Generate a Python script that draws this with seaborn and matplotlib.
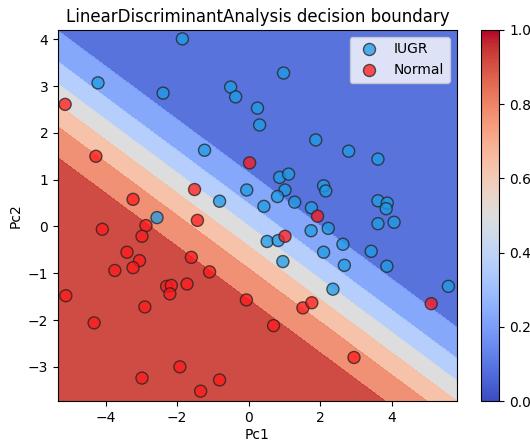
import numpy as np
import pandas as pd
import seaborn as sns
import matplotlib
matplotlib.use("Agg")
import matplotlib.pyplot as plt
from matplotlib.cm import ScalarMappable
from matplotlib.colors import Normalize

# points (Pc1, Pc2)
iugr_pc1 = [-1.85, -4.21, -2.39, -2.56, 0.98, -0.50, -0.36, 0.25, 0.31, 1.88,
            -1.23, 0.87, 1.12, -0.05, 1.02, 2.10, 2.16, -0.81, 0.81, 1.29,
            0.43, 1.76, 2.80, 3.62, 3.62, 3.88, 3.85, 3.62, 4.07, 2.23,
            2.64, 2.10, 3.43, 2.68, 3.87, 5.59, 2.36, 0.52, 0.83, 1.75, 0.96]
iugr_pc2 = [4.01, 3.07, 2.85, 0.19, 3.28, 2.98, 2.77, 2.53, 2.17, 1.85,
            1.63, 1.05, 1.12, 0.78, 0.78, 0.87, 0.76, 0.54, 0.64, 0.52,
            0.43, 0.40, 1.61, 1.44, 0.55, 0.50, 0.38, 0.06, 0.09, -0.04,
            -0.38, -0.55, -0.53, -0.83, -0.85, -1.28, -1.34, -0.32, -0.30, -0.09, -0.75]
normal_pc1 = [-5.13, -4.27, -3.23, -1.51, 0.03, 1.93, 5.11, 2.95, -1.43, 1.02,
              -1.60, -1.09, -1.72, -0.06, 1.52, 1.77, 0.70, -0.81, -1.34, -2.87,
              -4.09, -2.98, -3.40, -3.05, -3.74, -3.23, -2.29, -2.16, -2.20, -5.11,
              -2.90, -4.32, -1.92, -2.98]
normal_pc2 = [2.61, 1.50, 0.58, 0.79, 1.36, 0.22, -1.65, -2.80, 0.13, -0.21,
              -0.66, -0.97, -1.23, -1.57, -1.74, -1.63, -2.12, -3.28, -3.52, 0.02,
              -0.06, -0.21, -0.55, -0.73, -0.94, -0.88, -1.28, -1.26, -1.44, -1.48,
              -1.72, -2.06, -3.00, -3.24]
classes = ["IUGR", "Normal"]

# linear decision function P(Normal) = sigmoid(coef . [pc1, pc2] + intercept),
# read off the band edges in the reference
lda_coef = [-0.75, -1.32]
lda_intercept = -0.27

df = pd.DataFrame({
    "Pc1": iugr_pc1 + normal_pc1,
    "Pc2": iugr_pc2 + normal_pc2,
    "group": [classes[0]] * len(iugr_pc1) + [classes[1]] * len(normal_pc1),
})

xlim = (-5.33, 5.83)
ylim = (-3.73, 4.2)
xx, yy = np.meshgrid(np.arange(xlim[0], xlim[1] + 0.02, 0.02),
                     np.arange(ylim[0], ylim[1] + 0.02, 0.02))
Z = 1 / (1 + np.exp(-(np.c_[xx.ravel(), yy.ravel()] @ np.array(lda_coef) + lda_intercept)))
Z = Z.reshape(xx.shape)

#%%
fig = plt.figure(figsize=(5.3, 4.41), dpi=100)
ax = fig.add_axes([0.1094, 0.0907, 0.7528, 0.8413])
cax = fig.add_axes([0.907, 0.0907, 0.0351, 0.8413])

ax.contourf(xx, yy, Z, levels=np.linspace(0, 1, 8), cmap="coolwarm", alpha=0.95)
sns.scatterplot(data=df, x="Pc1", y="Pc2", hue="group", hue_order=classes,
                palette={"IUGR": "#1e9be6", "Normal": "#ff1a1a"}, alpha=0.75,
                s=75, edgecolor="#222222", linewidth=1, ax=ax)

ax.set_xlim(xlim)
ax.set_ylim(ylim)
ax.set_xlabel("Pc1", labelpad=2)
ax.set_ylabel("Pc2")
ax.set_title("LinearDiscriminantAnalysis decision boundary")
ax.legend(loc="upper right", title=None)

fig.colorbar(ScalarMappable(norm=Normalize(0, 1), cmap="coolwarm"), cax=cax)

fig.savefig("out.png", dpi=100)
